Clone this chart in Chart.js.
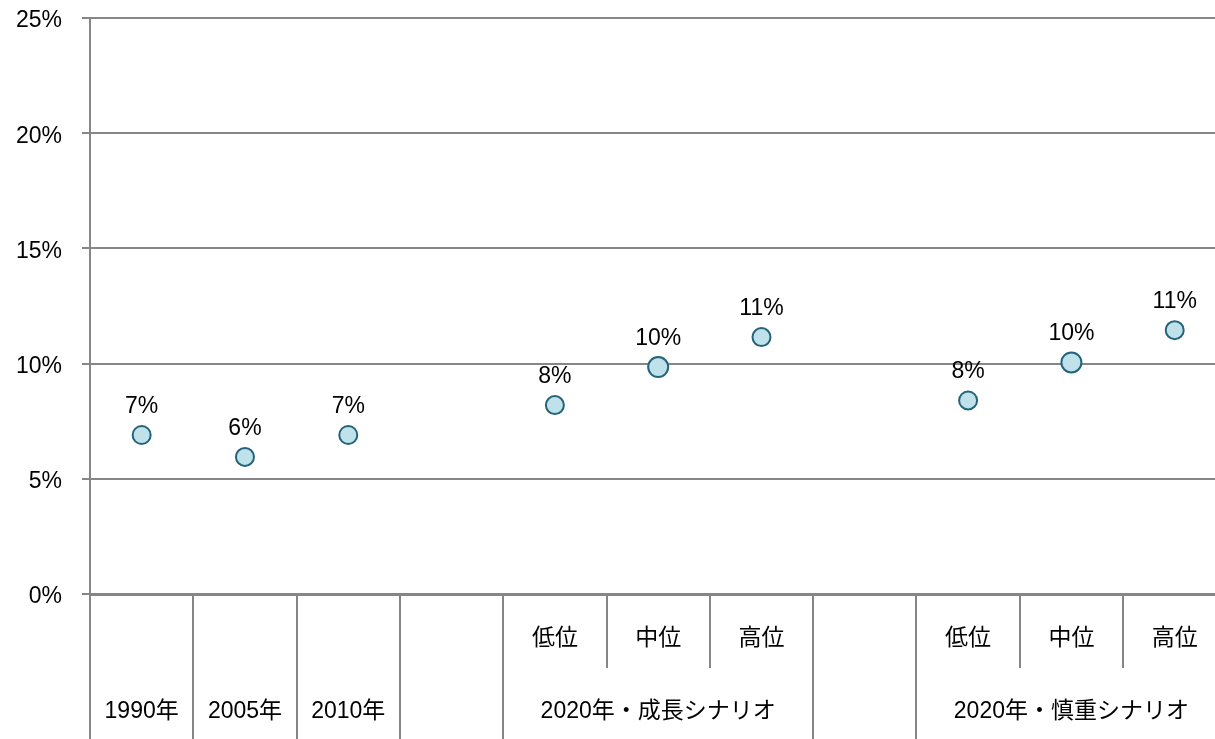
<!DOCTYPE html>
<html lang="ja">
<head>
<meta charset="utf-8">
<script src="https://cdn.jsdelivr.net/npm/chart.js@4.4.1/dist/chart.umd.min.js"></script>
<style>
  html, body { margin: 0; padding: 0; background: #fff; overflow: hidden; }
  #wrap { width: 1215px; height: 739px; }
</style>
</head>
<body>
<div id="wrap"><canvas id="chart" width="1215" height="739"></canvas></div>
<script>
// inner row (scenario level) and outer row (year / scenario group)
const subLabels = ['', '', '', '', '低位', '中位', '高位', '', '低位', '中位', '高位'];
const groupLabels = ['1990年', '2005年', '2010年', '', '2020年・成長シナリオ', '', '2020年・慎重シナリオ'];
const groupSpans = [1, 1, 1, 1, 3, 1, 3];
const shareValues = [6.9, 5.95, 6.9, null, 8.2, 9.85, 11.15, null, 8.4, 10.05, 11.45];
const yTicks = [0, 5, 10, 15, 20, 25];

const FONT = '"Liberation Sans", Arial, "Noto Sans CJK JP", sans-serif';
const FONT_SIZE = 23;
const GRID = '#868686';

// category slots on a linear axis: slot i is centred on x = i
const points = shareValues
  .map((v, i) => ({ x: i, y: v }))
  .filter(p => p.y != null);

// two-level category axis with divider lines
const categoryAxis = {
  id: 'categoryAxis',
  afterDraw(chart) {
    const { ctx, chartArea, scales: { x } } = chart;
    const edge = i => x.getPixelForValue(i - 0.5);
    const top = chartArea.bottom;
    const line = (px, y2) => {
      ctx.beginPath();
      ctx.moveTo(Math.round(px), top);
      ctx.lineTo(Math.round(px), y2);
      ctx.stroke();
    };

    ctx.save();
    ctx.strokeStyle = GRID;
    ctx.lineWidth = 2;
    ctx.font = FONT_SIZE + 'px ' + FONT;
    ctx.fillStyle = '#000';
    ctx.textAlign = 'center';
    ctx.textBaseline = 'middle';

    let start = 0;
    groupLabels.forEach((label, g) => {
      const span = groupSpans[g];
      line(edge(start), chart.height);
      for (let k = 1; k < span; k++) line(edge(start + k), top + 74);
      if (label) ctx.fillText(label, (edge(start) + edge(start + span)) / 2, top + 118);
      start += span;
    });
    line(edge(start), chart.height);

    subLabels.forEach((label, i) => {
      if (label) ctx.fillText(label, x.getPixelForValue(i), top + 45);
    });
    ctx.restore();
  }
};

// percentage labels above each point
const valueLabels = {
  id: 'valueLabels',
  afterDatasetsDraw(chart) {
    const { ctx } = chart;
    const meta = chart.getDatasetMeta(0);
    ctx.save();
    ctx.font = FONT_SIZE + 'px ' + FONT;
    ctx.fillStyle = '#000';
    ctx.textAlign = 'center';
    ctx.textBaseline = 'alphabetic';
    meta.data.forEach((pt, j) => {
      ctx.fillText(Math.round(points[j].y) + '%', pt.x, pt.y - 22);
    });
    ctx.restore();
  }
};

new Chart(document.getElementById('chart'), {
  type: 'scatter',
  data: {
    datasets: [{
      data: points,
      backgroundColor: '#bfe1ea',
      borderColor: '#23647a',
      pointBorderWidth: 2,
      // the mid-case markers are drawn a touch larger
      pointRadius: c => subLabels[c.raw.x] === '中位' ? 10 : 9,
      clip: false
    }]
  },
  options: {
    responsive: false,
    animation: false,
    events: [],
    layout: { autoPadding: false, padding: { top: 18, left: 0, right: 0, bottom: 0 } },
    plugins: {
      legend: { display: false },
      tooltip: { enabled: false }
    },
    scales: {
      x: {
        type: 'linear',
        min: -0.5,
        // the last slot is cut off by the right edge
        max: subLabels.length - 0.61,
        grid: { display: false },
        ticks: { display: false },
        border: { display: true, color: GRID, width: 3 },
        afterFit: s => { s.height = 145; }
      },
      y: {
        min: yTicks[0],
        max: yTicks[yTicks.length - 1],
        ticks: {
          stepSize: yTicks[1] - yTicks[0],
          callback: v => v + '%',
          color: '#000',
          font: { family: FONT, size: FONT_SIZE },
          padding: 20,
          labelOffset: 3
        },
        grid: { color: GRID, lineWidth: 2, tickLength: 8, drawTicks: true },
        border: { display: true, color: GRID, width: 2 },
        afterFit: s => {
          s.width = 90;
          s.paddingTop = 0;
          s.paddingBottom = 0;
        }
      }
    }
  },
  plugins: [categoryAxis, valueLabels]
});
</script>
</body>
</html>
